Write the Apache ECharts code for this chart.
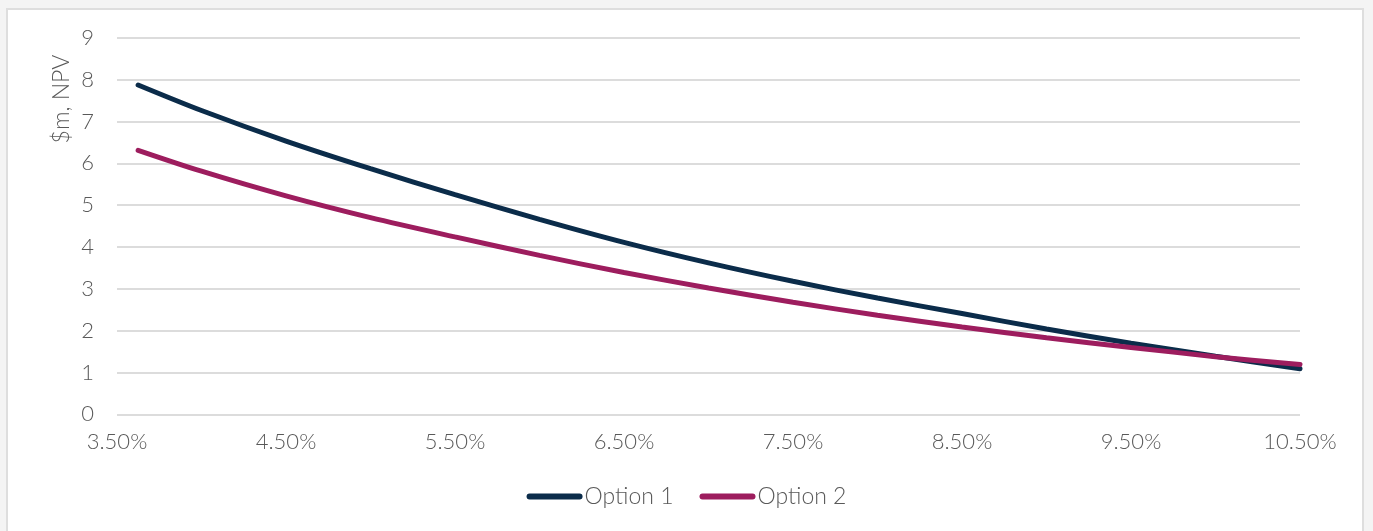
<!DOCTYPE html>
<html>
<head>
<meta charset="utf-8">
<script src="https://cdn.jsdelivr.net/npm/echarts@6/dist/echarts.min.js"></script>
<style>
  html, body { margin: 0; padding: 0; width: 1373px; height: 531px; background: #f4f4f4; overflow: hidden; }
  #frame { position: absolute; left: 6px; top: 8px; width: 1358px; height: 530px; background: #ffffff; border: 2px solid #dedede; box-sizing: border-box; }
  #chart { position: absolute; left: 0; top: 0; width: 1373px; height: 531px; }
</style>
</head>
<body>
<div id="frame"></div>
<div id="chart"></div>
<script>
// Discount rate (%)
const rates = [3.625, 4.0, 4.5, 5.0, 5.5, 6.0, 6.5, 7.0, 7.5, 8.0, 8.5, 9.0, 9.5, 10.0, 10.5];
// $m, NPV
const option1 = [7.87, 7.26, 6.53, 5.87, 5.25, 4.66, 4.11, 3.62, 3.18, 2.78, 2.41, 2.04, 1.70, 1.39, 1.09];
const option2 = [6.31, 5.81, 5.22, 4.70, 4.24, 3.80, 3.39, 3.02, 2.68, 2.37, 2.09, 1.83, 1.60, 1.38, 1.19];
const seriesNames = ['Option 1', 'Option 2'];
const yAxisTitle = '$m, NPV';

const font = 'Lato, "Open Sans", sans-serif';
const textColor = '#595959';
const colors = ['#0b2c4a', '#9d1d5e'];

const pair = (xs, ys) => xs.map((x, i) => [x, ys[i]]);

const chart = echarts.init(document.getElementById('chart'), null, { renderer: 'canvas' });
chart.setOption({
  backgroundColor: 'transparent',
  animation: false,
  color: colors,
  textStyle: { fontFamily: font },
  grid: { left: 117, right: 73, top: 37.7, bottom: 116.6, containLabel: false },
  xAxis: {
    type: 'value',
    min: 3.5, max: 10.5, interval: 0.5,
    axisLine: { show: false },
    axisTick: { show: false },
    splitLine: { show: false },
    axisLabel: {
      color: textColor, fontSize: 22, fontWeight: 300, fontFamily: font, margin: 17,
      showMinLabel: true, showMaxLabel: true, hideOverlap: false,
      formatter: v => (Math.abs(((v - 3.5) % 1)) < 1e-6 ? v.toFixed(2) + '%' : '')
    }
  },
  yAxis: {
    type: 'value',
    min: 0, max: 9, interval: 1,
    axisLine: { show: false },
    axisTick: { show: false },
    splitLine: { lineStyle: { color: '#dcdcdc', width: 2 } },
    axisLabel: { color: textColor, fontSize: 22, fontWeight: 300, fontFamily: font, margin: 23 }
  },
  legend: {
    bottom: 18, left: 'center',
    itemWidth: 56, itemHeight: 6, itemGap: 26,
    icon: 'path://M3,0 H53 A3,3 0 0 1 53,6 H3 A3,3 0 0 1 3,0 Z',
    textStyle: { color: textColor, fontSize: 23, fontWeight: 300, fontFamily: font, padding: [0, 0, 0, -3] },
    data: seriesNames
  },
  graphic: [{
    type: 'text',
    x: 62, y: 99,
    rotation: Math.PI / 2,
    style: { text: yAxisTitle, fill: textColor, font: '300 23px ' + font, align: 'center', verticalAlign: 'middle' }
  }],
  series: [
    { name: seriesNames[0], type: 'line', data: pair(rates, option1), smooth: 0.3, showSymbol: false,
      lineStyle: { width: 5, color: colors[0], cap: 'round' }, itemStyle: { color: colors[0] } },
    { name: seriesNames[1], type: 'line', data: pair(rates, option2), smooth: 0.3, showSymbol: false,
      lineStyle: { width: 5, color: colors[1], cap: 'round' }, itemStyle: { color: colors[1] } }
  ]
});
</script>
</body>
</html>
